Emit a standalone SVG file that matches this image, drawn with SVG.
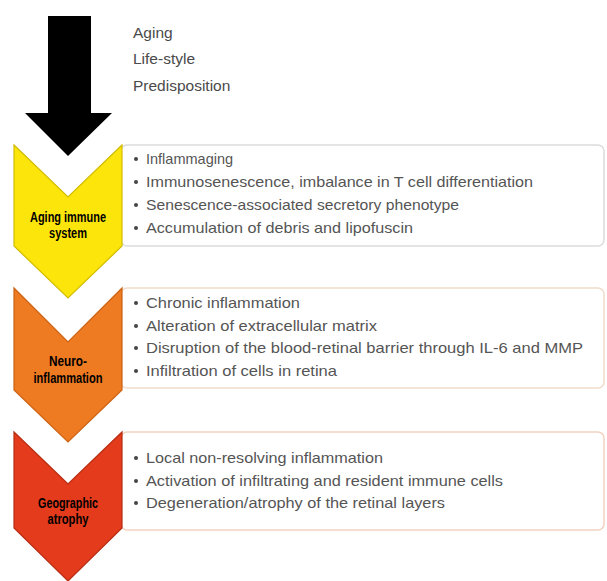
<svg xmlns="http://www.w3.org/2000/svg" width="607" height="581" viewBox="0 0 607 581">
<style>
.top{font-family:"Liberation Sans",Arial,sans-serif;font-size:15.5px;fill:#4a4a4a}
.item{font-family:"Liberation Sans",Arial,sans-serif;font-size:14.5px;fill:#555}
.lbl{font-family:"Liberation Sans",Arial,sans-serif;font-size:14px;font-weight:bold;fill:#000;text-anchor:middle}
.dot{fill:#444}
</style>
<rect width="607" height="581" fill="#fff"/>
<g id="connectors">
<polygon id="arrow" points="48,16 91,16 91,113 112,113 68,156 25,113 48,113" fill="#000"/>
</g>
<g id="causes">
<text class="top" x="133" y="38">Aging</text>
<text class="top" x="133" y="64">Life-style</text>
<text class="top" x="133" y="91">Predisposition</text>
</g>
<g id="box1">
<rect x="121" y="145" width="483" height="101" rx="6" fill="#fff" stroke="#dcdcdc" stroke-width="1.5"/>
<circle class="dot" cx="136" cy="159" r="2"/><text class="item" x="146" y="164">Inflammaging</text>
<circle class="dot" cx="136" cy="182" r="2"/><text class="item" x="146" y="187" textLength="387" lengthAdjust="spacingAndGlyphs">Immunosenescence, imbalance in T cell differentiation</text>
<circle class="dot" cx="136" cy="205" r="2"/><text class="item" x="146" y="210" textLength="313" lengthAdjust="spacingAndGlyphs">Senescence-associated secretory phenotype</text>
<circle class="dot" cx="136" cy="228" r="2"/><text class="item" x="146" y="233" textLength="267" lengthAdjust="spacingAndGlyphs">Accumulation of debris and lipofuscin</text>
</g>
<g id="box2">
<rect x="121" y="288" width="483" height="100" rx="6" fill="#fff" stroke="#f0dccb" stroke-width="1.5"/>
<circle class="dot" cx="136" cy="303" r="2"/><text class="item" x="146" y="308" textLength="154" lengthAdjust="spacingAndGlyphs">Chronic inflammation</text>
<circle class="dot" cx="136" cy="326" r="2"/><text class="item" x="146" y="331" textLength="231" lengthAdjust="spacingAndGlyphs">Alteration of extracellular matrix</text>
<circle class="dot" cx="136" cy="348" r="2"/><text class="item" x="146" y="353" textLength="437" lengthAdjust="spacingAndGlyphs">Disruption of the blood-retinal barrier through IL-6 and MMP</text>
<circle class="dot" cx="136" cy="371" r="2"/><text class="item" x="146" y="376" textLength="191" lengthAdjust="spacingAndGlyphs">Infiltration of cells in retina</text>
</g>
<g id="box3">
<rect x="121" y="432" width="483" height="98" rx="6" fill="#fff" stroke="#f3d2c2" stroke-width="1.5"/>
<circle class="dot" cx="136" cy="458" r="2"/><text class="item" x="146" y="463" textLength="237" lengthAdjust="spacingAndGlyphs">Local non-resolving inflammation</text>
<circle class="dot" cx="136" cy="481" r="2"/><text class="item" x="146" y="486" textLength="357" lengthAdjust="spacingAndGlyphs">Activation of infiltrating and resident immune cells</text>
<circle class="dot" cx="136" cy="503" r="2"/><text class="item" x="146" y="508" textLength="299" lengthAdjust="spacingAndGlyphs">Degeneration/atrophy of the retinal layers</text>
</g>
<g id="aging-immune-system">
<polygon points="14,145 68,197 122,145 122,246 68,298 14,246" fill="#FCE50B" stroke="#D2BC00" stroke-width="1.2"/>
<text class="lbl" x="68" y="222" textLength="76" lengthAdjust="spacingAndGlyphs">Aging immune</text>
<text class="lbl" x="68" y="238" textLength="38" lengthAdjust="spacingAndGlyphs">system</text>
</g>
<g id="neuro-inflammation">
<polygon points="14,288 68,342 122,288 122,390 68,442 14,390" fill="#EE7A22" stroke="#CB6314" stroke-width="1.2"/>
<text class="lbl" x="68" y="366" textLength="38" lengthAdjust="spacingAndGlyphs">Neuro-</text>
<text class="lbl" x="68" y="383" textLength="69" lengthAdjust="spacingAndGlyphs">inflammation</text>
</g>
<g id="geographic-atrophy">
<polygon points="14,432 68,484 122,432 122,528 68,581 14,528" fill="#E33B1C" stroke="#B82C12" stroke-width="1.2"/>
<text class="lbl" x="68" y="508" textLength="60" lengthAdjust="spacingAndGlyphs">Geographic</text>
<text class="lbl" x="68" y="524" textLength="41" lengthAdjust="spacingAndGlyphs">atrophy</text>
</g>
</svg>
